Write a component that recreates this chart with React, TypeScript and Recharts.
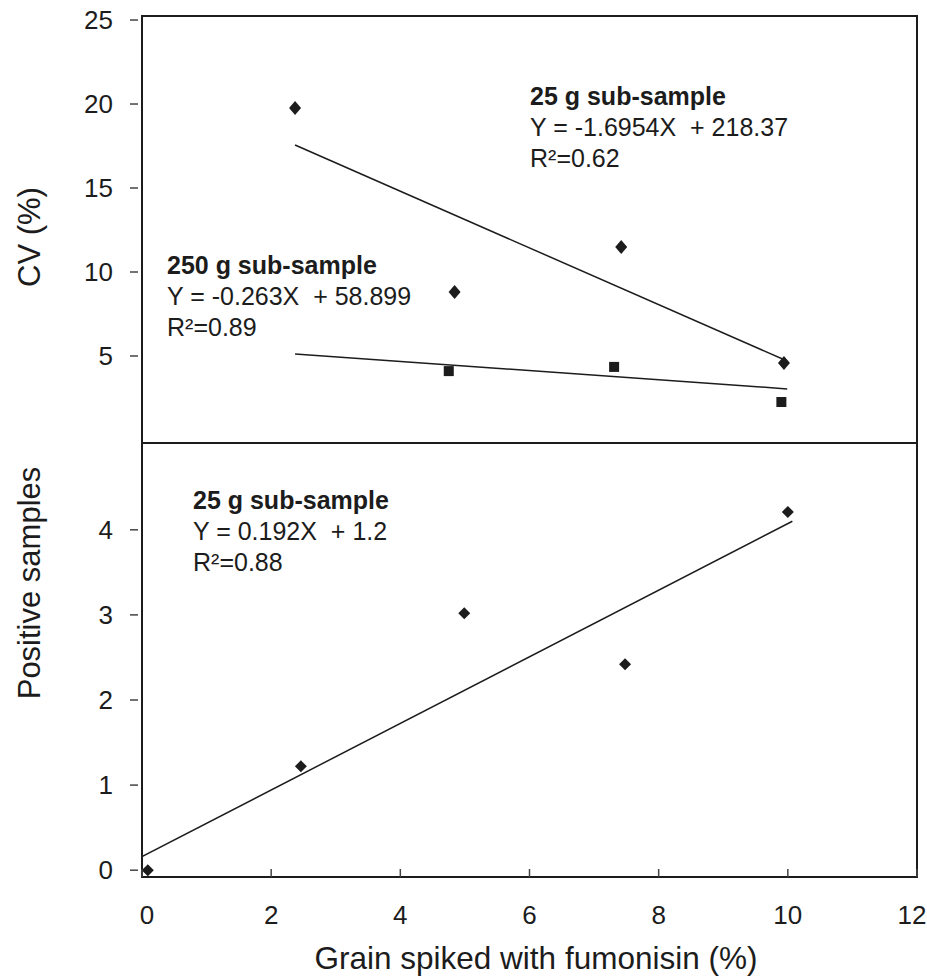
import React from 'react';
import { ComposedChart, Scatter, Line, XAxis, YAxis, ReferenceArea } from 'recharts';

// x ticks shared by both panels
const X_TICKS = [0, 2, 4, 6, 8, 10, 12];
const CV_TICKS = [5, 10, 15, 20, 25];
const POS_TICKS = [0, 1, 2, 3, 4];

// top panel: CV (%)
const cv25 = [
  { x: 2.37, y: 19.76 },
  { x: 4.84, y: 8.81 },
  { x: 7.42, y: 11.49 },
  { x: 9.94, y: 4.58 },
];
const cv25Fit = [
  { x: 2.37, y: 17.56 },
  { x: 9.99, y: 4.7 },
];
const cv250 = [
  { x: 4.75, y: 4.1 },
  { x: 7.31, y: 4.35 },
  { x: 9.9, y: 2.26 },
];
const cv250Fit = [
  { x: 2.37, y: 5.12 },
  { x: 9.99, y: 3.04 },
];

// bottom panel: positive samples
const pos25 = [
  { x: 0.09, y: 0 },
  { x: 2.46, y: 1.22 },
  { x: 4.99, y: 3.02 },
  { x: 7.48, y: 2.42 },
  { x: 10, y: 4.21 },
];
const pos25Fit = [
  { x: 0, y: 0.16 },
  { x: 10.07, y: 4.1 },
];

const FONT = '"Liberation Sans", Arial, sans-serif';
const INK = '#1c1c1c';
const TICK_FS = 26;

const CV_DOMAIN: [number, number] = [-0.18, 25.24];
const POS_DOMAIN: [number, number] = [-0.08, 5.02];

const Diamond = (props: any) => {
  const { cx, cy } = props;
  const w = props.w ?? 6;
  const h = props.h ?? 7;
  return <path d={`M${cx},${cy - h} L${cx + w},${cy} L${cx},${cy + h} L${cx - w},${cy} Z`} fill={INK} />;
};

const Square = (props: any) => {
  const { cx, cy } = props;
  return <rect x={cx - 5} y={cy - 5} width={10} height={10} fill={INK} />;
};

const YTick = (props: any) => {
  const { x, y, payload } = props;
  return (
    <g>
      <line x1={x - 12} x2={x - 4} y1={y} y2={y} stroke="#444" strokeWidth={1.5} />
      <text x={x - 29} y={y} dy={9} textAnchor="end" fontSize={TICK_FS} fontFamily={FONT} fill={INK}>
        {payload.value}
      </text>
    </g>
  );
};

const XTick = (props: any) => {
  const { x, y, payload } = props;
  // the last label sits against the right edge of the picture
  const lx = payload.value === 12 ? x - 5 : payload.value === 0 ? x + 5 : x;
  return (
    <g>
      <line x1={x} x2={x} y1={y} y2={y - 8} stroke="#444" strokeWidth={1.5} />
      <text x={lx} y={y + 47} textAnchor="middle" fontSize={TICK_FS} fontFamily={FONT} fill={INK}>
        {payload.value}
      </text>
    </g>
  );
};

const noteStyle: React.CSSProperties = {
  position: 'absolute',
  fontFamily: FONT,
  fontSize: 25,
  lineHeight: '31px',
  color: INK,
  whiteSpace: 'pre',
};

const Note = ({ left, top, lines }: { left: number; top: number; lines: string[] }) => (
  <div style={{ ...noteStyle, left, top }}>
    <div style={{ fontWeight: 'bold' }}>{lines[0]}</div>
    <div>{lines[1]}</div>
    <div>{lines[2]}</div>
  </div>
);

const RotTitle = ({ cx, cy, text }: { cx: number; cy: number; text: string }) => (
  <div
    style={{
      position: 'absolute',
      left: cx,
      top: cy,
      transform: 'translate(-50%, -50%) rotate(-90deg)',
      fontFamily: FONT,
      fontSize: 31,
      color: INK,
      whiteSpace: 'nowrap',
    }}
  >
    {text}
  </div>
);

export default function App() {
  return (
    <div style={{ position: 'absolute', left: 0, top: 0, width: 927, height: 978, background: '#fff', overflow: 'hidden' }}>
      {/* top: CV */}
      <div style={{ position: 'absolute', left: 0, top: 0 }}>
        <ComposedChart width={927} height={450} margin={{ top: 16, right: 10, bottom: 7, left: 0 }}>
          <XAxis dataKey="x" type="number" domain={[0, 12]} ticks={X_TICKS} allowDataOverflow hide />
          <YAxis
            dataKey="y"
            type="number"
            domain={CV_DOMAIN}
            ticks={CV_TICKS}
            allowDataOverflow
            width={142}
            axisLine={false}
            tickLine={false}
            tickSize={0}
            tickMargin={0}
            interval={0}
            tick={<YTick />}
          />
          <ReferenceArea x1={0} x2={12} y1={CV_DOMAIN[0]} y2={CV_DOMAIN[1]} fill="none" stroke={INK} strokeWidth={2} ifOverflow="visible" />
          <Line data={cv25Fit} dataKey="y" stroke={INK} strokeWidth={1.5} dot={false} isAnimationActive={false} />
          <Line data={cv250Fit} dataKey="y" stroke={INK} strokeWidth={1.5} dot={false} isAnimationActive={false} />
          <Scatter data={cv25} dataKey="y" shape={<Diamond w={6} h={7} />} isAnimationActive={false} />
          <Scatter data={cv250} dataKey="y" shape={<Square />} isAnimationActive={false} />
        </ComposedChart>
      </div>

      {/* bottom: positive samples */}
      <div style={{ position: 'absolute', left: 0, top: 443 }}>
        <ComposedChart width={927} height={535} margin={{ top: 0, right: 10, bottom: 41, left: 0 }}>
          <XAxis
            dataKey="x"
            type="number"
            domain={[0, 12]}
            ticks={X_TICKS}
            allowDataOverflow
            height={60}
            axisLine={false}
            tickLine={false}
            tickSize={0}
            tickMargin={0}
            interval={0}
            tick={<XTick />}
          />
          <YAxis
            dataKey="y"
            type="number"
            domain={POS_DOMAIN}
            ticks={POS_TICKS}
            allowDataOverflow
            width={142}
            axisLine={false}
            tickLine={false}
            tickSize={0}
            tickMargin={0}
            interval={0}
            tick={<YTick />}
          />
          <ReferenceArea x1={0} x2={12} y1={POS_DOMAIN[0]} y2={POS_DOMAIN[1]} fill="none" stroke={INK} strokeWidth={2} ifOverflow="visible" />
          <Line data={pos25Fit} dataKey="y" stroke={INK} strokeWidth={1.5} dot={false} isAnimationActive={false} />
          <Scatter data={pos25} dataKey="y" shape={<Diamond w={6} h={6} />} isAnimationActive={false} />
        </ComposedChart>
      </div>

      <Note left={530} top={81} lines={['25 g sub-sample', 'Y = -1.6954X  + 218.37', 'R²=0.62']} />
      <Note left={167} top={250} lines={['250 g sub-sample', 'Y = -0.263X  + 58.899', 'R²=0.89']} />
      <Note left={193} top={485} lines={['25 g sub-sample', 'Y = 0.192X  + 1.2', 'R²=0.88']} />

      <RotTitle cx={30} cy={237} text="CV (%)" />
      <RotTitle cx={30} cy={583} text="Positive samples" />
      <div
        style={{
          position: 'absolute',
          left: 536,
          top: 958,
          transform: 'translate(-50%, -50%)',
          fontFamily: FONT,
          fontSize: 31.5,
          lineHeight: '34px',
          color: INK,
          whiteSpace: 'nowrap',
        }}
      >
        Grain spiked with fumonisin (%)
      </div>
    </div>
  );
}
